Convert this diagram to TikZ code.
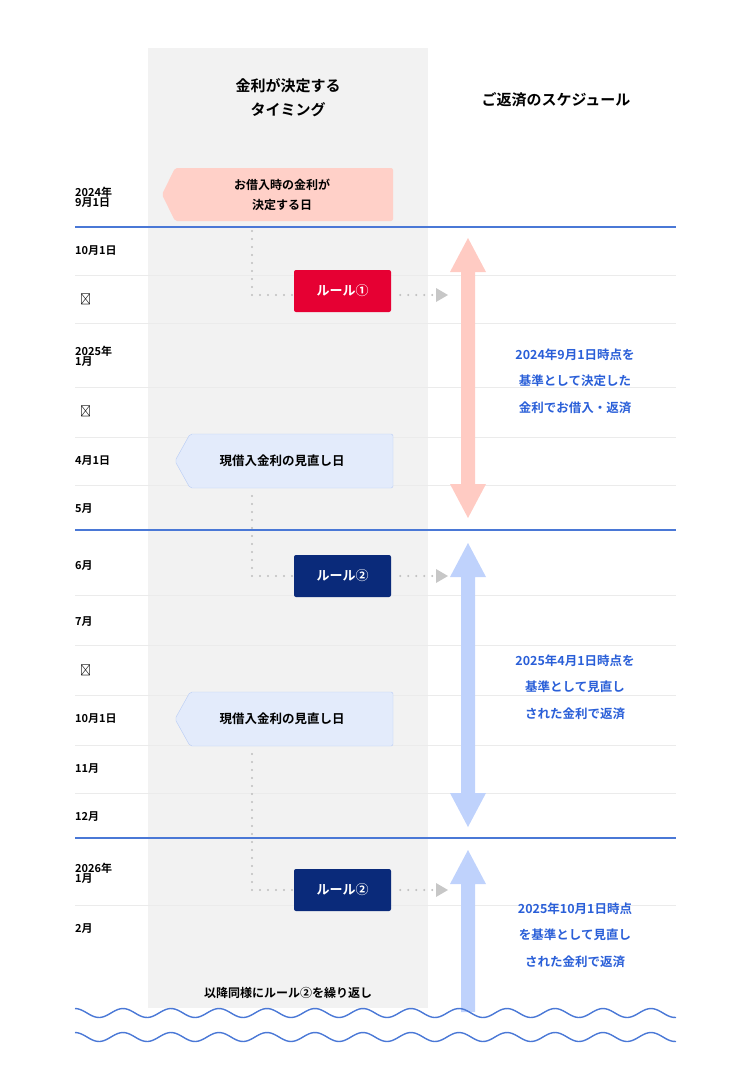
\documentclass[tikz,border=0pt]{standalone}
\usepackage{fontspec}
\setmainfont{Noto Sans CJK JP}[BoldFont={* Bold}]
\definecolor{gcol}{HTML}{F2F2F2}
\definecolor{bline}{HTML}{4A78D6}
\definecolor{pinkc}{HTML}{FFD0C8}
\definecolor{lbl}{HTML}{E3EBFB}
\definecolor{lbb}{HTML}{B8CCF5}
\definecolor{rred}{HTML}{E60033}
\definecolor{navy}{HTML}{0A2A7A}
\definecolor{btxt}{HTML}{2A5FD8}
\definecolor{barr}{HTML}{BFD2FC}
\definecolor{parr}{HTML}{FFCBC3}
\tikzset{
 mon/.style={anchor=west,font=\bfseries\fontsize{11}{13}\selectfont,align=left,inner sep=0},
 sep/.style={draw=black!8,line width=0.8pt},
 blu/.style={draw=bline,line width=1.4pt},
 rulebox/.style={rounded corners=2pt,minimum width=97pt,minimum height=42pt,text=white,font=\bfseries\fontsize{13}{15}\selectfont,inner sep=0},
 dotl/.style={draw=black!25,line width=2.2pt,dash pattern=on 0pt off 8pt,line cap=round},
 btx/.style={text=btxt,font=\bfseries\fontsize{12.5}{26.5}\selectfont,align=center},
}
\begin{document}
\begin{tikzpicture}[x=1pt,y=-1pt]
\useasboundingbox (0,0) rectangle (750,1090);
\fill[gcol] (148,48) rectangle (428,1008);
\node[font=\bfseries\fontsize{15}{24}\selectfont,align=center] (h1) at (288,98) {金利が決定する\\タイミング};
\node[font=\bfseries\fontsize{15}{18}\selectfont] (h2) at (556,100) {ご返済のスケジュール};
% separators
\foreach \y in {275,323,387,437,485,595,645,695,745,793,905}
  \draw[sep] (75,\y) -- (676,\y);
\foreach \y in {227,530,838}
  \draw[blu] (75,\y) -- (676,\y);
% month labels
\node[mon] (m1) at (75,197) {2024年\\[-3pt]9月1日};
\node[mon] (m2) at (75,251) {10月1日};
\node[mon] (m3) at (80,299) {⋮};
\node[mon] (m4) at (75,356) {2025年\\[-3pt]1月};
\node[mon] (m5) at (80,411) {⋮};
\node[mon] (m6) at (75,461) {4月1日};
\node[mon] (m7) at (75,509) {5月};
\node[mon] (m8) at (75,566) {6月};
\node[mon] (m9) at (75,622) {7月};
\node[mon] (m10) at (80,670) {⋮};
\node[mon] (m11) at (75,719) {10月1日};
\node[mon] (m12) at (75,769) {11月};
\node[mon] (m13) at (75,817) {12月};
\node[mon] (m14) at (75,873) {2026年\\[-3pt]1月};
\node[mon] (m15) at (75,929) {2月};
% pentagons
\fill[pinkc,rounded corners=2pt] (393,168) -- (393,221) -- (175,221) -- (162,194.5) -- (175,168) -- cycle;
\node[font=\bfseries\fontsize{12}{20}\selectfont,align=center] (p1) at (282,195) {お借入時の金利が\\決定する日};
\draw[lbb,fill=lbl,rounded corners=2pt] (393,434) -- (393,488) -- (190,488) -- (175,461) -- (190,434) -- cycle;
\node[font=\bfseries\fontsize{12.5}{15}\selectfont] (p2) at (282,461) {現借入金利の見直し日};
\draw[lbb,fill=lbl,rounded corners=2pt] (393,692) -- (393,746) -- (190,746) -- (175,719) -- (190,692) -- cycle;
\node[font=\bfseries\fontsize{12.5}{15}\selectfont] (p3) at (282,719) {現借入金利の見直し日};
% rule boxes
\node[rulebox,fill=rred] (r1) at (342.5,291) {ルール①};
\node[rulebox,fill=navy] (r2) at (342.5,576) {ルール②};
\node[rulebox,fill=navy] (r3) at (342.5,890) {ルール②};
% dotted connectors
\coordinate (c1) at (252,295);
\coordinate (c2) at (252,576);
\coordinate (c3) at (252,890);
\draw[dotl] (252,231) -- (c1) -- (r1.west |- c1);
\draw[dotl] (252,496) -- (c2) -- (r2.west);
\draw[dotl] (252,754) -- (c3) -- (r3.west);
\coordinate (t1) at (448,295);
\coordinate (t2) at (448,576);
\coordinate (t3) at (448,890);
\foreach \t/\r in {t1/r1,t2/r2,t3/r3}{
  \draw[dotl] ([xshift=9pt]\r.east |- \t) -- ([xshift=-12pt]\t);
  \fill[black!22] (\t) -- ++(-12,-7) -- ++(0,14) -- cycle;
}
% arrows
\fill[parr] (468,238) -- (486,272) -- (475,272) -- (475,484) -- (486,484) -- (468,518) -- (450,484) -- (461,484) -- (461,272) -- (450,272) -- cycle;
\fill[barr] (468,543) -- (486,577) -- (475,577) -- (475,793) -- (486,793) -- (468,827) -- (450,793) -- (461,793) -- (461,577) -- (450,577) -- cycle;
\fill[barr] (468,850) -- (486,884) -- (475,884) -- (475,1012) -- (461,1012) -- (461,884) -- (450,884) -- cycle;
% blue texts
\node[btx] (b1) at (575,381) {2024年9月1日時点を\\基準として決定した\\金利でお借入・返済};
\node[btx] (b2) at (575,687) {2025年4月1日時点を\\基準として見直し\\された金利で返済};
\node[btx] (b3) at (575,935) {2025年10月1日時点\\を基準として見直し\\された金利で返済};
\node[font=\bfseries\fontsize{12}{15}\selectfont] (rep) at (288,993) {以降同様にルール②を繰り返し};
% waves
\draw[bline,line width=1.4pt] plot[domain=75:676,samples=240] (\x,{1013-4.5*cos((\x-75)*7.5)});
\draw[bline,line width=1.4pt] plot[domain=75:676,samples=240] (\x,{1037-4.5*cos((\x-75)*7.5)});
\end{tikzpicture}
\end{document}
